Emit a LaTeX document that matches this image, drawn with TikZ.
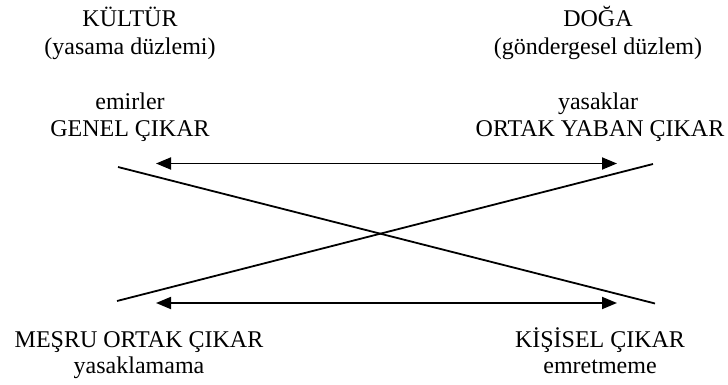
\documentclass[tikz,border=0pt]{standalone}
\usepackage{fontspec}
\setmainfont{Liberation Serif}
\usetikzlibrary{arrows.meta}
\begin{document}
\begin{tikzpicture}[x=0.5pt,y=-0.5pt,
  lbl/.style={anchor=base,inner sep=0pt,font=\fontsize{12pt}{14pt}\selectfont},
  link/.style={line width=0.9pt},
  twoway/.style={line width=0.9pt,{Triangle[length=7.5pt,width=6pt]}-{Triangle[length=7.5pt,width=6pt]}}]
  \useasboundingbox (0,0) rectangle (728,385);

  % upper left: culture
  \node[lbl] (kultur)    at (130,27)  {KÜLTÜR};
  \node[lbl] (kulturS)   at (130,55)  {(yasama düzlemi)};
  \node[lbl] (emir)      at (130,110) {emirler};
  \node[lbl] (genel)     at (130,137) {GENEL ÇIKAR};

  % upper right: nature
  \node[lbl] (doga)      at (598,27)  {DOĞA};
  \node[lbl] (dogaS)     at (598,55)  {(göndergesel düzlem)};
  \node[lbl] (yasak)     at (598,110) {yasaklar};
  \node[lbl] (ortak)     at (600,137) {ORTAK YABAN ÇIKAR};

  % lower corners
  \node[lbl] (mesru)     at (139,347) {MEŞRU ORTAK ÇIKAR};
  \node[lbl] (yasaklama) at (139,373) {yasaklamama};
  \node[lbl] (kisisel)   at (600,347) {KİŞİSEL ÇIKAR};
  \node[lbl] (emret)     at (600,373) {emretmeme};

  % end points of the square of relations
  \coordinate (aTL) at (156,163.5);
  \coordinate (aTR) at (617,163.5);
  \coordinate (aBL) at (156,303);
  \coordinate (aBR) at (617,303);
  \coordinate (dTL) at (118,167);
  \coordinate (dBR) at (655,303.5);
  \coordinate (dTR) at (653,164);
  \coordinate (dBL) at (117,301);

  % contrary and subcontrary relations
  \draw[twoway] (aTL) -- (aTR);
  \draw[twoway] (aBL) -- (aBR);

  % contradictory diagonals
  \draw[link] (dTL) -- (dBR);
  \draw[link] (dTR) -- (dBL);
\end{tikzpicture}
\end{document}
